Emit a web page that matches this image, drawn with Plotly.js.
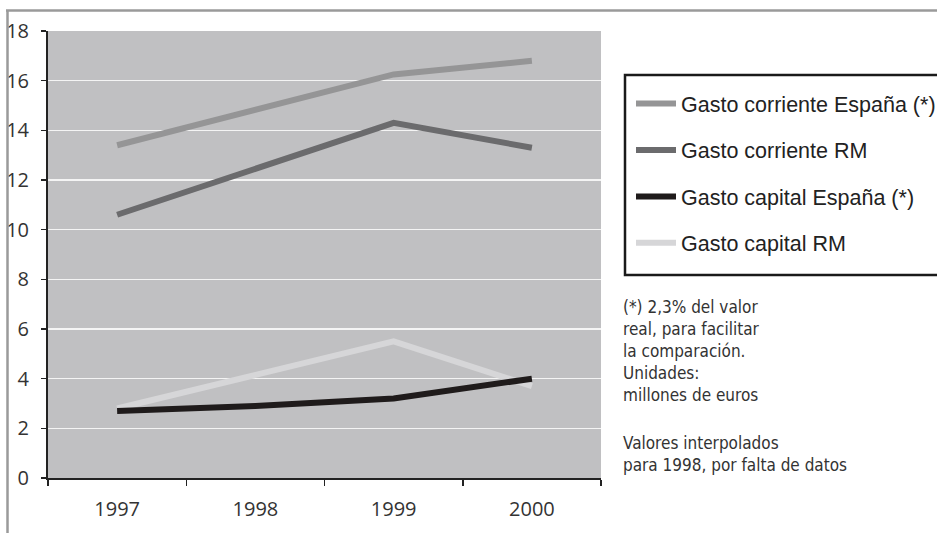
<!DOCTYPE html>
<html>
<head>
<meta charset="utf-8">
<script src="https://cdn.plot.ly/plotly-3.0.1.min.js"></script>
<style>html,body{margin:0;padding:0;background:#fff;} #chart{width:937px;height:533px;}</style>
</head>
<body>
<div id="chart"></div>
<script>
// Data
const years = ["1997", "1998", "1999", "2000"];
const gastoCorrienteEspana = [13.4, 14.8, 16.25, 16.8];
const gastoCorrienteRM = [10.6, 12.45, 14.3, 13.3];
const gastoCapitalEspana = [2.7, 2.9, 3.2, 4.0];
const gastoCapitalRM = [2.8, 4.15, 5.5, 3.7];
const seriesNames = ["Gasto corriente España (*)", "Gasto corriente RM", "Gasto capital España (*)", "Gasto capital RM"];
const yTicks = [0, 2, 4, 6, 8, 10, 12, 14, 16, 18];
const noteText = "(*) 2,3% del valor<br>real, para facilitar<br>la comparación.<br>Unidades:<br>millones de euros";
const note2Text = "Valores interpolados<br>para 1998, por falta de datos";

// Plot area geometry (pixels)
const W = 937, H = 533;
const L = 48, R = 601, T = 31, B = 478;
const px = x => (x - L) / (R - L);
const py = y => (B - y) / (B - T);

function tr(name, y, color, rank) {
  return {
    type: "scatter", mode: "lines", x: years, y: y, name: name,
    line: {color: color, width: 6},
    legendgroup: name, legendrank: rank, hoverinfo: "skip"
  };
}

const data = [
  tr(seriesNames[0], gastoCorrienteEspana, "#959596", 1),
  tr(seriesNames[1], gastoCorrienteRM, "#6b6b6d", 2),
  tr(seriesNames[3], gastoCapitalRM, "#d6d6d8", 4),
  tr(seriesNames[2], gastoCapitalEspana, "#1f1b1b", 3)
];

const tickFont = {family: "'Open Sans', 'DejaVu Sans', sans-serif", size: 20, color: "#333"};
const noteFont = {family: "'Liberation Sans Narrow', 'Arial Narrow', 'DejaVu Sans Condensed', sans-serif", size: 17, color: "#333"};

const layout = {
  width: W, height: H,
  margin: {l: L, r: W - R, t: T, b: H - B, pad: 0, autoexpand: false},
  paper_bgcolor: "#ffffff",
  plot_bgcolor: "#c0c0c2",
  showlegend: true,
  xaxis: {
    type: "category",
    range: [-0.5, 3.5],
    tickson: "boundaries",
    ticks: "outside", ticklen: 6, tickwidth: 1.5, tickcolor: "#222",
    showline: true, linecolor: "#222", linewidth: 2,
    showgrid: false, zeroline: false,
    tickfont: tickFont,
    ticklabelstandoff: 12,
    fixedrange: true
  },
  yaxis: {
    range: [0, 18],
    tickvals: yTicks,
    ticktext: yTicks.map(String),
    ticks: "outside", ticklen: 5, tickwidth: 1.5, tickcolor: "#222",
    showline: true, linecolor: "#222", linewidth: 2,
    showgrid: true, gridcolor: "#f4f4f4", gridwidth: 1.5,
    zeroline: false,
    tickfont: tickFont,
    ticklabelstandoff: 8,
    fixedrange: true
  },
  legend: {
    x: px(631), y: py(83), xanchor: "left", yanchor: "top",
    bgcolor: "rgba(0,0,0,0)", borderwidth: 0,
    font: {family: "'Liberation Sans', Arial, sans-serif", size: 21.5, color: "#222"},
    tracegroupgap: 15.5,
    itemwidth: 40
  },
  annotations: [
    {xref: "paper", yref: "paper", x: px(621), y: py(351), xanchor: "left", yanchor: "middle",
     align: "left", showarrow: false, text: noteText, font: noteFont},
    {xref: "paper", yref: "paper", x: px(621), y: py(454), xanchor: "left", yanchor: "middle",
     align: "left", showarrow: false, text: note2Text, font: noteFont}
  ],
  shapes: [
    {type: "line", xref: "paper", yref: "paper", x0: px(6), x1: px(1000), y0: py(10.5), y1: py(10.5),
     line: {color: "#9a9a9a", width: 2.5}},
    {type: "line", xref: "paper", yref: "paper", x0: px(7.5), x1: px(7.5), y0: py(10), y1: py(560),
     line: {color: "#9a9a9a", width: 2.5}},
    {type: "rect", xref: "paper", yref: "paper", x0: px(625), x1: px(1000), y0: py(75), y1: py(275),
     fillcolor: "#ffffff", line: {color: "#1a1a1a", width: 2.5}, layer: "above"}
  ]
};

Plotly.newPlot("chart", data, layout, {displayModeBar: false, staticPlot: true});
</script>
</body>
</html>
